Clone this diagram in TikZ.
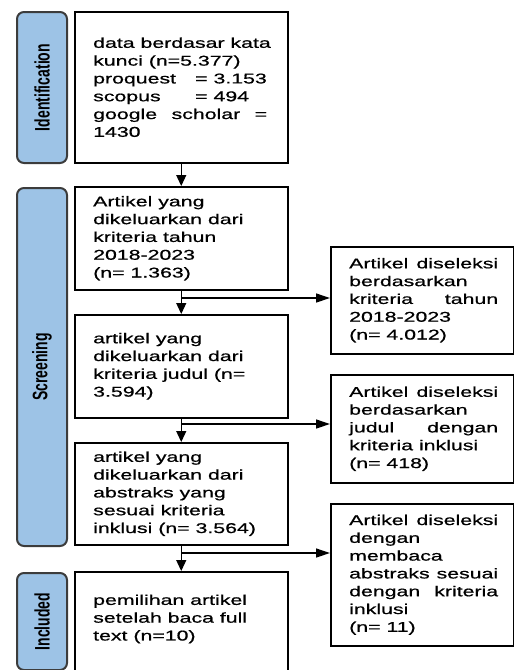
\documentclass[tikz,border=0pt]{standalone}
\usepackage{fontspec}
\setmainfont[FakeStretch=1.5,FakeBold=0.7]{Liberation Sans}
\newfontfamily\sidefont{Liberation Sans}
\usetikzlibrary{arrows.meta}
\definecolor{sideblue}{RGB}{157,195,230}
\definecolor{sideedge}{RGB}{60,60,60}
\tikzset{
  mainbox/.style={draw=black, line width=1.5pt, fill=white, rectangle, inner sep=0pt, anchor=north west},
  sidebox/.style={draw=sideedge, line width=2pt, fill=sideblue, rectangle, rounded corners=7pt, inner sep=0pt, anchor=north west, minimum width=50pt},
  txt/.style={inner sep=0pt, align=left, anchor=west, font=\fontsize{14.2}{17.8}\selectfont},
  sidetxt/.style={inner sep=0pt, rotate=90, font=\sidefont\bfseries\fontsize{14}{16}\selectfont},
  varrow/.style={draw=black, line width=1.3pt, -{Triangle[length=11pt,width=10pt]}},
  harrow/.style={draw=black, line width=1.3pt, -{Triangle[length=14pt,width=9pt]}},
}
\begin{document}
\begin{tikzpicture}[x=1pt,y=-1pt]
\useasboundingbox (0,0) rectangle (514,670);
% side boxes
\node[sidebox, minimum height=151pt] (s1) at (16,11) {};
\node[sidebox, minimum height=358pt] (s2) at (16,187) {};
\node[sidebox, minimum height=97pt] (s3) at (16,572) {};
\node[sidetxt] (st1) at (s1.center) {\scalebox{1}[1.5]{Identification}};
\node[sidetxt] (st2) at (s2.center) {\scalebox{1}[1.5]{Screening}};
\node[sidetxt] (st3) at (s3.center) {\scalebox{1}[1.5]{Included}};
% main boxes
\node[mainbox, minimum width=213pt, minimum height=151pt] (b1) at (74,11) {};
\node[mainbox, minimum width=213pt, minimum height=103pt] (b2) at (74,186) {};
\node[mainbox, minimum width=213pt, minimum height=103pt] (b3) at (74,314) {};
\node[mainbox, minimum width=213pt, minimum height=102pt] (b4) at (74,442) {};
\node[mainbox, minimum width=213pt, minimum height=120pt] (b5) at (74,571) {};
% right boxes
\node[mainbox, minimum width=183pt, minimum height=107pt] (r1) at (330,246) {};
\node[mainbox, minimum width=183pt, minimum height=108pt] (r2) at (330,374) {};
\node[mainbox, minimum width=183pt, minimum height=142pt] (r3) at (330,503) {};
% texts in main boxes
\node[txt] (t1) at ([xshift=19pt]b1.west) {data berdasar kata\\
kunci (n=5.377)\\
\makebox[102pt][l]{proquest}= 3.153\\
\makebox[102pt][l]{scopus}= 494\\
\hbox to 174pt{google\hfill scholar\hfill =}\\
1430};
\node[txt] (t2) at ([xshift=19pt]b2.west) {Artikel yang\\
dikeluarkan dari\\
kriteria tahun\\
2018-2023\\
(n= 1.363)};
\node[txt] (t3) at ([xshift=19pt]b3.west) {artikel yang\\
dikeluarkan dari\\
kriteria judul (n=\\
3.594)};
\node[txt] (t4) at ([xshift=19pt]b4.west) {artikel yang\\
dikeluarkan dari\\
abstraks yang\\
sesuai kriteria\\
inklusi (n= 3.564)};
\coordinate (t5y) at (0,619);
\node[txt] (t5) at ([xshift=19pt]b5.west |- t5y) {pemilihan artikel\\
setelah baca full\\
text (n=10)};
% texts in right boxes
\node[txt] (u1) at ([xshift=19pt]r1.west) {\hbox to 149pt{Artikel\hfill diseleksi}\\
berdasarkan\\
\hbox to 149pt{kriteria\hfill tahun}\\
2018-2023\\
(n= 4.012)};
\node[txt] (u2) at ([xshift=19pt]r2.west) {\hbox to 149pt{Artikel\hfill diseleksi}\\
berdasarkan\\
\hbox to 149pt{judul\hfill dengan}\\
kriteria inklusi\\
(n= 418)};
\node[txt] (u3) at ([xshift=19pt]r3.west) {\hbox to 149pt{Artikel\hfill diseleksi}\\
dengan\\
membaca\\
\hbox to 149pt{abstraks\hfill sesuai}\\
\hbox to 149pt{dengan\hfill kriteria}\\
inklusi\\
(n= 11)};
% connectors
\coordinate (y1) at (0,298);
\coordinate (y2) at (0,424);
\coordinate (y3) at (0,553);
\coordinate (j1) at (b2.south |- y1);
\coordinate (j2) at (b3.south |- y2);
\coordinate (j3) at (b4.south |- y3);
\draw[varrow] (b1.south) -- (b2.north);
\draw[varrow] (b2.south) -- (b3.north);
\draw[varrow] (b3.south) -- (b4.north);
\draw[varrow] (b4.south) -- (b5.north);
\draw[harrow] (j1) -- (r1.west |- j1);
\draw[harrow] (j2) -- (r2.west |- j2);
\draw[harrow] (j3) -- (r3.west |- j3);
\end{tikzpicture}
\end{document}
